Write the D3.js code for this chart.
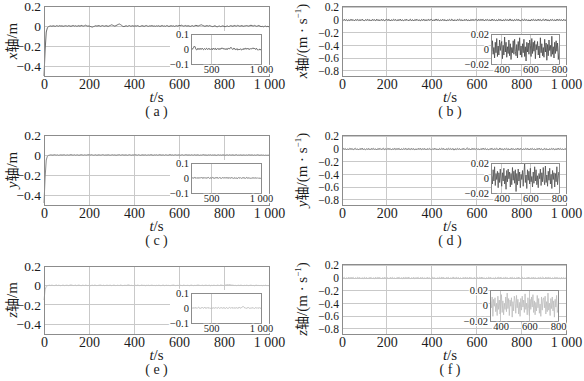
<!DOCTYPE html>
<html>
<head>
<meta charset="utf-8">
<script src="https://cdn.jsdelivr.net/npm/d3@7"></script>
<style>
  body { margin: 0; background: #fff; }
  svg { display: block; }
</style>
</head>
<body>
<svg id="chart" width="584" height="381"></svg>
<script>
// sample step of every series, s
const DT = 5;

// position error, mm (one value every DT seconds, from t = 0)
const posX = [-500,-240,-60,-18,-6,
  -2,1,-3,2,0,-4,3,1,-2,4,-1,2,-3,0,3,
  1,-2,4,0,-3,2,5,-1,3,-2,0,4,-3,6,2,-1,3,8,2,-2,
  1,-4,-8,-11,-6,-2,3,-1,2,4,-3,1,5,0,-2,3,1,-4,2,6,
  12,8,3,-2,4,10,16,20,14,6,-3,-6,-2,3,-4,1,5,-2,0,3,
  -3,2,-1,4,0,-5,-2,3,1,-4,2,5,-1,-3,2,0,4,-2,1,-3,
  2,-1,3,-4,0,5,-2,1,-3,4,2,-5,0,3,-1,2,-4,1,3,-2,
  6,3,8,4,-1,2,5,-2,3,0,-4,1,4,-3,2,7,3,-1,5,9,
  12,6,2,-3,1,4,-2,5,1,-4,-6,-2,3,-5,-8,-3,0,-6,-2,2,
  -4,-7,-3,1,-5,-2,4,0,-3,5,2,-1,6,3,-2,1,4,-3,0,2,
  5,2,-1,4,8,3,0,6,2,-3,1,5,-2,-6,-3,-8,-4,-1,-7,-3,
  -9];
const posY = [-480,-220,-50,-12,-4,
  -1,2,0,-2,3,1,-1,2,-3,0,2,-1,1,3,-2,
  0,2,-2,1,4,0,-1,3,-2,1,2,-3,0,3,1,-2,2,0,-1,3,
  2,-1,4,1,-2,0,3,-3,1,2,-1,0,4,2,-2,1,-1,3,0,-2,
  1,3,-1,2,-3,0,2,4,-2,1,3,-1,0,2,-3,1,4,0,-2,2,
  -1,3,1,-2,4,0,-3,2,1,-1,3,-2,0,2,-1,4,1,-3,2,0,
  3,-2,1,4,-1,0,2,-3,3,1,-2,0,5,-1,2,-2,1,3,-1,0,
  2,-3,1,3,-2,0,4,1,-1,2,-2,3,0,-1,4,-2,1,2,-3,0,
  -1,2,4,-1,1,-3,2,0,3,-2,1,-1,2,-4,0,3,-1,1,-2,2,
  0,-3,1,2,-2,3,-1,0,2,-3,1,4,-2,0,-1,2,-3,1,0,-2,
  1,-2,3,0,-1,2,-3,1,-2,0,3,-1,-3,1,-2,0,-4,-1,-3,-2,
  -2];
const posZ = [-150,-45,-10,-3,0,
  2,-1,3,0,-2,1,4,-1,2,0,-3,1,3,-2,0,
  2,1,-2,3,5,2,-1,0,3,-2,1,4,0,-3,2,1,-1,3,0,-2,
  1,-3,0,2,-1,3,1,-2,0,2,4,1,-1,2,-2,0,3,-1,1,2,
  -2,0,3,1,-3,2,0,-1,4,1,-2,0,2,-1,3,6,2,-1,1,-2,
  0,2,-1,3,1,-2,0,4,-1,2,-3,1,0,2,-2,1,3,-1,0,-2,
  1,-1,2,0,-3,1,3,-2,0,2,-1,1,-3,0,2,4,1,-2,0,1,
  -1,2,0,-2,3,1,-1,0,2,-3,1,3,0,-2,1,-1,2,4,1,-1,
  0,2,-2,1,3,-1,0,2,-3,1,-1,2,0,-2,3,1,-1,4,2,0,
  -1,3,5,8,6,9,5,2,3,-1,1,-2,0,2,-1,3,0,-2,1,-1,
  2,0,-2,1,3,-1,0,-3,1,2,-1,0,-2,1,-3,0,-1,2,-2,-1,
  -3];

// velocity error, mm/s
const velX = [3,-8,12,-5,9,-11,4,-7,10,-3,6,-12,8,-2,11,-9,5,-6,13,-4,
  -10,7,-3,12,-8,5,-13,9,-1,6,-11,14,-6,2,-9,10,-4,8,-12,3,
  9,-5,11,-14,4,-7,12,-2,8,-10,5,-6,15,-9,3,-12,7,-1,10,-8,
  -4,13,-9,6,-15,8,-3,11,-7,2,-12,9,-5,14,-10,4,-8,12,-2,7,
  10,-13,5,-8,16,-4,9,-11,3,-6,12,-9,7,-14,2,-5,11,-7,13,-3,
  -9,6,-12,10,-2,15,-8,4,-11,7,-5,13,-10,3,-16,9,-4,8,-7,12,
  5,-10,14,-6,9,-3,11,-13,6,-1,10,-8,4,-12,15,-5,7,-9,2,-11,
  13,-4,8,-15,6,-9,12,-2,5,-10,17,-7,3,-12,9,-6,11,-3,8,-14,
  -5,10,-8,14,-3,7,-11,4,-16,9,-2,12,-7,6,-10,13,-4,8,-9,3,
  11,-6,15,-9,4,-13,7,-2,10,-8,5,-12,14,-5,9,-3,6,-10,12,-7,
  2];
const velY = [-6,11,-3,8,-14,5,-9,12,-2,7,-10,4,13,-7,1,-12,9,-5,15,-8,
  3,-11,6,-4,10,-13,8,-1,12,-6,4,-15,9,-3,11,-7,2,14,-10,5,
  -8,12,-4,9,-12,3,-6,16,-9,7,-2,11,-14,5,-7,10,-3,13,-11,6,
  4,-9,14,-5,8,-12,2,-8,11,-4,15,-10,6,-2,9,-13,7,-6,12,-3,
  -11,7,-4,13,-8,3,-15,10,-5,12,-1,8,-12,6,-9,14,-3,9,-7,11,
  -18,6,-9,12,-4,8,-13,5,-2,10,-11,7,19,-6,4,-14,11,-3,9,-8,
  13,-5,2,-12,8,-7,15,-4,11,-9,3,-13,6,-1,12,-10,7,-5,14,-2,
  -9,16,-6,4,-11,9,-3,13,-8,5,-14,10,-2,7,-12,6,-5,15,-9,3,
  8,-13,5,-7,12,-4,10,-15,6,-2,11,-8,3,-12,9,-5,14,-6,7,-10,
  -3,12,-9,6,-14,4,-7,11,-1,9,-12,5,-8,15,-4,10,-6,3,-11,8,
  -4];
const velZ = [7,-4,10,-12,3,-8,14,-6,9,-2,11,-13,5,-7,12,-3,8,-10,4,-9,
  12,-5,8,-14,6,-3,10,-9,2,-11,13,-6,9,-1,7,-12,4,-8,15,-5,
  -10,6,-13,9,-4,11,-7,3,-15,8,-2,12,-9,5,-11,14,-6,10,-3,7,
  9,-12,4,-6,13,-10,5,-3,11,-14,8,-1,10,-8,3,-13,12,-5,7,-11,
  -2,14,-9,6,-12,3,-5,11,-8,16,-4,9,-13,7,-1,10,-15,5,-7,12,
  6,-10,13,-3,8,-11,4,-14,9,-6,12,-2,7,-9,15,-5,3,-12,10,-4,
  -13,8,-5,11,-2,14,-9,6,-12,4,-7,13,-3,9,-10,2,-14,11,-6,8,
  10,-3,12,-11,5,-8,16,-6,3,-13,9,-4,11,-7,6,-15,8,-2,13,-9,
  -5,11,-8,4,-14,7,-1,12,-10,6,-3,15,-9,5,-12,8,-6,10,-4,13,
  3,-9,14,-7,10,-2,8,-13,5,-11,12,-4,9,-6,2,-12,11,-8,6,-10,
  4];

// axis limits and ticks
const tDomain = [0, 1000];
const tTicks = [0, 200, 400, 600, 800, 1000];
const posDomain = [-0.5, 0.2];
const posTicks = [0.2, 0, -0.2, -0.4];
const velDomain = [-0.88, 0.22];
const velTicks = [0.2, 0, -0.2, -0.4, -0.6, -0.8];
const posInsetT = [300, 1000];
const posInsetTTicks = [500, 1000];
const posInsetDomain = [-0.1, 0.1];
const posInsetTicks = [0.1, 0, -0.1];
const velInsetT = [325, 800];
const velInsetTTicks = [400, 600, 800];
const velInsetDomain = [-0.02, 0.02];
const velInsetTicks = [0.02, 0, -0.02];

const axisNames = ["x", "y", "z"];
const panelLetters = ["a", "b", "c", "d", "e", "f"];

// layout
const COLS = [{ x0: 44, x1: 269 }, { x0: 342, x1: 566 }];
const ROWS = [
  [{ y0: 6, y1: 76 }, { y0: 135, y1: 205 }, { y0: 266, y1: 334 }],
  [{ y0: 6, y1: 76 }, { y0: 135, y1: 205 }, { y0: 264, y1: 334 }]
];
const INSETS = [
  [{ x0: 191, x1: 261, y0: 34, y1: 64 }, { x0: 191, x1: 261, y0: 163, y1: 193 }, { x0: 191, x1: 261, y0: 293, y1: 323 }],
  [{ x0: 491, x1: 559, y0: 34, y1: 64 }, { x0: 491, x1: 559, y0: 163, y1: 193 }, { x0: 490, x1: 558, y0: 290, y1: 321 }]
];
const LINE_COLORS = ["#6a6a6a", "#8a8a8a", "#c4c4c4"];
const INSET_COLORS = [["#5a5a5a", "#464646"], ["#7a7a7a", "#505050"], ["#b8b8b8", "#bdbdbd"]];

const SERIF = "'Liberation Serif', 'Times New Roman', 'DejaVu Serif', serif";
const CJK = "'Noto Sans CJK SC'";
const GRID = "#c9c9c9";
const FRAME = "#8c8c8c";
const INK = "#1c1c1c";

const svg = d3.select("#chart").attr("font-family", SERIF);
const fmt = v => v === 1000 ? "1 000" : (v < 0 ? "\u2212" + String(-v) : String(v));

const panels = [];
[posX, posY, posZ].forEach((s, r) => panels.push({ kind: "pos", row: r, col: 0, data: s }));
[velX, velY, velZ].forEach((s, r) => panels.push({ kind: "vel", row: r, col: 1, data: s }));

panels.forEach(drawPanel);

function styleAxis(sel, size) {
  sel.select(".domain").remove();
  sel.attr("font-family", SERIF).attr("font-size", size);
  sel.selectAll("text").attr("fill", INK);
}

function drawPanel(p) {
  const isPos = p.kind === "pos";
  const C = COLS[p.col];
  const R = ROWS[p.col][p.row];
  const I = INSETS[p.col][p.row];
  const letter = panelLetters[p.row * 2 + p.col];
  const pts = p.data.map((v, i) => [i * DT, v / 1000]);

  const x = d3.scaleLinear().domain(tDomain).range([C.x0, C.x1]);
  const y = d3.scaleLinear().domain(isPos ? posDomain : velDomain).range([R.y1, R.y0]);
  const yTicks = isPos ? posTicks : velTicks;

  const g = svg.append("g");

  // grid
  g.selectAll(".vg").data(tTicks.slice(1, -1)).join("line")
    .attr("x1", d => x(d)).attr("x2", d => x(d))
    .attr("y1", R.y0).attr("y2", R.y1)
    .attr("stroke", GRID).attr("stroke-width", 1).attr("shape-rendering", "crispEdges");
  g.selectAll(".hg").data(yTicks).join("line")
    .attr("x1", C.x0).attr("x2", C.x1)
    .attr("y1", d => y(d)).attr("y2", d => y(d))
    .attr("stroke", GRID).attr("stroke-width", 1).attr("shape-rendering", "crispEdges");

  // main series
  const line = d3.line().x(d => x(d[0])).y(d => y(d[1]));
  g.append("path").datum(pts)
    .attr("d", line)
    .attr("fill", "none")
    .attr("stroke", LINE_COLORS[p.row])
    .attr("stroke-width", 1);

  g.append("rect")
    .attr("x", C.x0).attr("y", R.y0)
    .attr("width", C.x1 - C.x0).attr("height", R.y1 - R.y0)
    .attr("fill", "none").attr("stroke", FRAME).attr("shape-rendering", "crispEdges");

  // axes
  g.append("g").attr("transform", `translate(0,${R.y1})`)
    .call(d3.axisBottom(x).tickValues(tTicks).tickFormat(fmt).tickSize(0).tickPadding(3))
    .call(s => styleAxis(s, 14));
  g.append("g").attr("transform", `translate(${C.x0},0)`)
    .call(d3.axisLeft(y).tickValues(yTicks).tickFormat(fmt).tickSize(0).tickPadding(3))
    .call(s => styleAxis(s, isPos ? 13.5 : 11.5));

  // axis titles
  const cx = (C.x0 + C.x1) / 2 + (p.col ? -4 : 0);
  const tl = g.append("text")
    .attr("x", cx).attr("y", R.y1 + 26)
    .attr("text-anchor", "middle").attr("font-size", 15).attr("fill", INK);
  tl.append("tspan").attr("font-style", "italic").text("t");
  tl.append("tspan").text("/s");

  g.append("text")
    .attr("x", cx).attr("y", R.y1 + 40)
    .attr("text-anchor", "middle").attr("font-size", 14).attr("fill", INK)
    .attr("xml:space", "preserve")
    .text(`( ${letter} )`);

  const ymid = (R.y0 + R.y1) / 2;
  const yl = g.append("text")
    .attr("transform", `translate(${p.col ? C.x0 - 35 : C.x0 - 27},${ymid}) rotate(-90)`)
    .attr("text-anchor", "middle").attr("font-size", 15).attr("fill", INK);
  yl.append("tspan").attr("font-style", "italic").text(axisNames[p.row]);
  yl.append("tspan").attr("font-family", CJK).attr("font-size", 14).text("轴");
  if (isPos) {
    yl.append("tspan").text("/m");
  } else {
    yl.append("tspan").text("/(m · s");
    yl.append("tspan").attr("font-size", 9).attr("dy", -6).text("−1");
    yl.append("tspan").attr("dy", 6).text(")");
  }

  // inset
  const ix = d3.scaleLinear().domain(isPos ? posInsetT : velInsetT).range([I.x0, I.x1]);
  const iy = d3.scaleLinear().domain(isPos ? posInsetDomain : velInsetDomain).range([I.y1, I.y0]);
  const ixTicks = isPos ? posInsetTTicks : velInsetTTicks;
  const iyTicks = isPos ? posInsetTicks : velInsetTicks;

  if (isPos) {
    g.append("rect")
      .attr("x", I.x0 - 21).attr("y", I.y0 - 3)
      .attr("width", C.x1 - I.x0 + 21).attr("height", R.y1 - I.y0 + 3)
      .attr("fill", "#fff");
  }
  g.append("rect")
    .attr("x", I.x0).attr("y", I.y0)
    .attr("width", I.x1 - I.x0).attr("height", I.y1 - I.y0)
    .attr("fill", "#fff");

  const clipId = "clip-" + letter;
  svg.append("clipPath").attr("id", clipId)
    .append("rect")
    .attr("x", I.x0).attr("y", I.y0)
    .attr("width", I.x1 - I.x0).attr("height", I.y1 - I.y0);

  g.selectAll(".ivg").data(ixTicks.filter(t => ix(t) < I.x1 - 1)).join("line")
    .attr("x1", d => ix(d)).attr("x2", d => ix(d))
    .attr("y1", I.y0).attr("y2", I.y1)
    .attr("stroke", GRID).attr("shape-rendering", "crispEdges");

  const inPts = pts.filter(d => d[0] >= ix.domain()[0] - DT && d[0] <= ix.domain()[1] + DT);
  const iline = d3.line().x(d => ix(d[0])).y(d => iy(d[1]));
  g.append("path").datum(inPts)
    .attr("d", iline)
    .attr("clip-path", `url(#${clipId})`)
    .attr("fill", "none")
    .attr("stroke", INSET_COLORS[p.row][p.col])
    .attr("stroke-width", isPos ? 0.9 : 0.8);

  g.append("rect")
    .attr("x", I.x0).attr("y", I.y0)
    .attr("width", I.x1 - I.x0).attr("height", I.y1 - I.y0)
    .attr("fill", "none").attr("stroke", FRAME).attr("shape-rendering", "crispEdges");

  const ax1 = g.append("g").attr("transform", `translate(0,${I.y1})`)
    .call(d3.axisBottom(ix).tickValues(ixTicks).tickFormat(fmt).tickSize(0).tickPadding(2))
    .call(s => styleAxis(s, 10.5));
  const ax2 = g.append("g").attr("transform", `translate(${I.x0},0)`)
    .call(d3.axisLeft(iy).tickValues(iyTicks).tickFormat(fmt).tickSize(0).tickPadding(2))
    .call(s => styleAxis(s, 10.5));
  [ax1, ax2].forEach(a => a.selectAll("text")
    .attr("stroke", "#fff").attr("stroke-width", 2.5).attr("paint-order", "stroke"));
}
</script>
</body>
</html>
